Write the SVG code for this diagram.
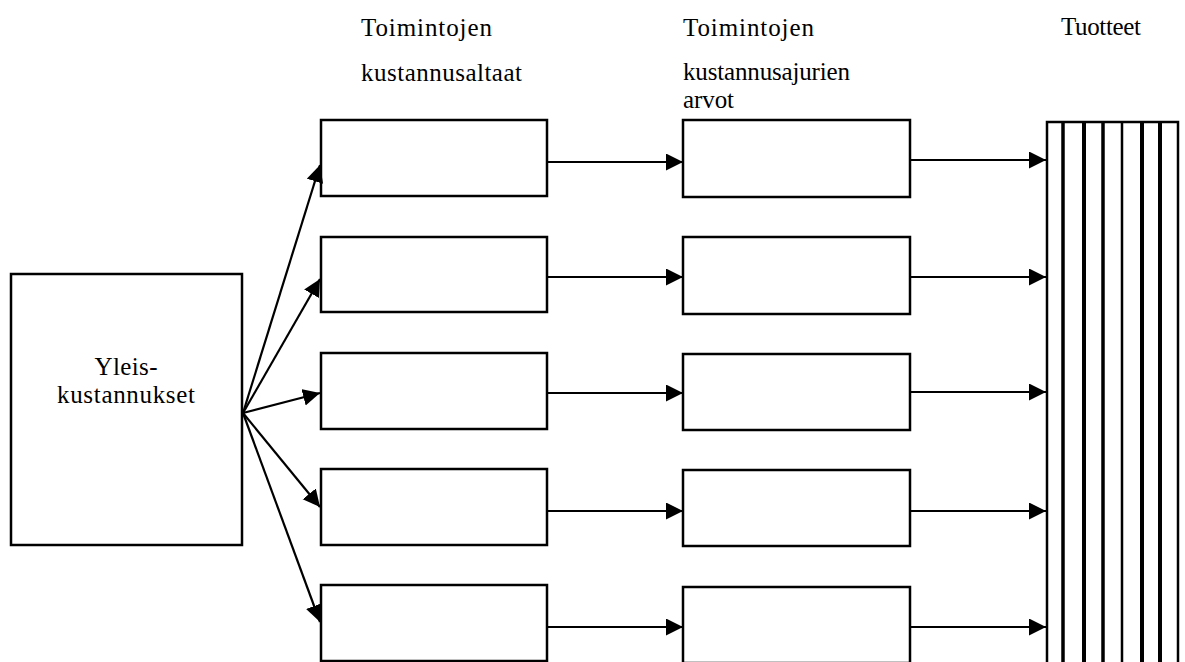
<svg xmlns="http://www.w3.org/2000/svg" width="1185" height="662" viewBox="0 0 1185 662">
<style>
.box{fill:#fff;stroke:#000;stroke-width:2.5}
.con{fill:none;stroke:#000;stroke-width:2.2;marker-end:url(#ah)}
.bar{stroke:#000}
</style>
<defs>
<marker id="ah" markerUnits="userSpaceOnUse" markerWidth="20" markerHeight="20" refX="17" refY="8.5" orient="auto">
<path d="M0,0 L17,8.5 L0,17 Z" fill="#000"/>
</marker>
</defs>
<rect width="1185" height="662" fill="#fff"/>
<g id="headers" font-family="'Liberation Serif', 'Times New Roman', serif" font-size="25" fill="#000">
<text x="361" y="36" textLength="131" lengthAdjust="spacing">Toimintojen</text>
<text x="361" y="81" textLength="161" lengthAdjust="spacing">kustannusaltaat</text>
<text x="683" y="36" textLength="131" lengthAdjust="spacing">Toimintojen</text>
<text x="683" y="80" textLength="167" lengthAdjust="spacing">kustannusajurien</text>
<text x="683" y="108" textLength="51" lengthAdjust="spacing">arvot</text>
<text x="1061" y="35" textLength="80" lengthAdjust="spacing">Tuotteet</text>
</g>
<g id="yleis">
<rect class="box" x="11" y="274" width="231" height="271"/>
<text x="126" y="375" text-anchor="middle" font-family="'Liberation Serif', 'Times New Roman', serif" font-size="25" textLength="63" lengthAdjust="spacing">Yleis-</text>
<text x="126" y="403" text-anchor="middle" font-family="'Liberation Serif', 'Times New Roman', serif" font-size="25" textLength="138" lengthAdjust="spacing">kustannukset</text>
</g>
<g id="pool1"><rect class="box" x="321" y="120" width="226" height="76"/></g>
<g id="pool2"><rect class="box" x="321" y="237" width="226" height="75"/></g>
<g id="pool3"><rect class="box" x="321" y="353" width="226" height="76"/></g>
<g id="pool4"><rect class="box" x="321" y="469" width="226" height="76"/></g>
<g id="pool5"><rect class="box" x="321" y="585" width="226" height="76"/></g>
<g id="driver1"><rect class="box" x="683" y="120" width="227" height="77"/></g>
<g id="driver2"><rect class="box" x="683" y="237" width="227" height="77"/></g>
<g id="driver3"><rect class="box" x="683" y="354" width="227" height="76"/></g>
<g id="driver4"><rect class="box" x="683" y="470" width="227" height="76"/></g>
<g id="driver5"><rect class="box" x="683" y="587" width="227" height="76"/></g>
<g id="products">
<rect x="1047" y="122" width="131" height="560" fill="#fff" stroke="#000" stroke-width="2.5"/>
<line class="bar" x1="1063" y1="122" x2="1063" y2="662" stroke-width="3.5"/>
<line class="bar" x1="1084" y1="122" x2="1084" y2="662" stroke-width="4"/>
<line class="bar" x1="1103" y1="122" x2="1103" y2="662" stroke-width="3.5"/>
<line class="bar" x1="1122" y1="122" x2="1122" y2="662" stroke-width="2.5"/>
<line class="bar" x1="1142" y1="122" x2="1142" y2="662" stroke-width="4"/>
<line class="bar" x1="1160" y1="122" x2="1160" y2="662" stroke-width="4"/>
</g>
<g id="connectors">
<line class="con" x1="243" y1="413" x2="320" y2="165"/>
<line class="con" x1="243" y1="413" x2="320" y2="279"/>
<line class="con" x1="243" y1="413" x2="320" y2="393"/>
<line class="con" x1="243" y1="413" x2="320" y2="507"/>
<line class="con" x1="243" y1="413" x2="320" y2="622"/>
<line class="con" x1="547" y1="162" x2="683" y2="162"/>
<line class="con" x1="547" y1="277" x2="683" y2="277"/>
<line class="con" x1="547" y1="393" x2="683" y2="393"/>
<line class="con" x1="547" y1="511" x2="683" y2="511"/>
<line class="con" x1="547" y1="627" x2="683" y2="627"/>
<line class="con" x1="910" y1="160" x2="1046" y2="160"/>
<line class="con" x1="910" y1="277" x2="1046" y2="277"/>
<line class="con" x1="910" y1="392" x2="1046" y2="392"/>
<line class="con" x1="910" y1="511" x2="1046" y2="511"/>
<line class="con" x1="910" y1="627" x2="1046" y2="627"/>
</g>
</svg>
